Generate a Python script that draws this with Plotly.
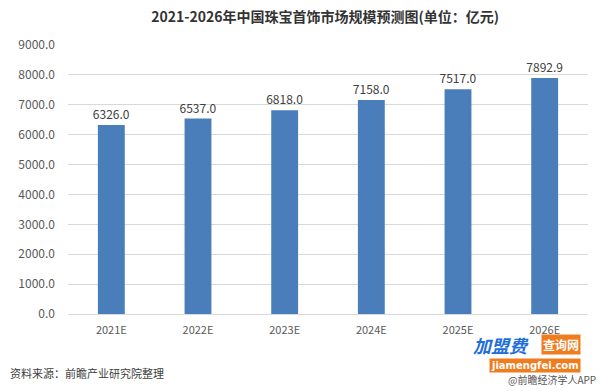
import plotly.graph_objects as go

categories = ["2021E", "2022E", "2023E", "2024E", "2025E", "2026E"]
values = [6326.0, 6537.0, 6818.0, 7158.0, 7517.0, 7892.9]
y_ticks = [0, 1000, 2000, 3000, 4000, 5000, 6000, 7000, 8000, 9000]

title = "2021-2026年中国珠宝首饰市场规模预测图(单位：亿元)"
source = "资料来源：前瞻产业研究院整理"

font_cjk = "Noto Sans CJK SC, Microsoft YaHei, sans-serif"

fig = go.Figure()
fig.add_trace(go.Bar(
    x=categories, y=values,
    marker=dict(color="#4A7EBB", line=dict(width=0)),
    text=[f"{v:.1f}" for v in values],
    textposition="outside",
    constraintext="none",
    textfont=dict(color="#404040", size=12, family=font_cjk),
    cliponaxis=False,
))

fig.update_layout(
    width=600, height=391,
    margin=dict(l=68, r=12, t=45, b=77),
    plot_bgcolor="white", paper_bgcolor="white",
    bargap=0.69,
    showlegend=False,
    title=dict(text="<b>" + title + "</b>", x=0.542, xanchor="center", y=0.955, yanchor="middle",
               font=dict(size=14, color="#333333", family=font_cjk)),
    xaxis=dict(showgrid=False, showline=True, linecolor="#D9D9D9", linewidth=1,
               ticks="", ticklabelstandoff=6,
               tickfont=dict(size=11, color="#595959", family=font_cjk)),
    yaxis=dict(range=[0, 9000], tickvals=y_ticks, ticktext=[f"{t:.1f}" for t in y_ticks],
               showgrid=True, gridcolor="#D9D9D9", gridwidth=1, zeroline=False,
               ticks="", ticklabelstandoff=12,
               tickfont=dict(size=12, color="#595959", family=font_cjk)),
    font=dict(family=font_cjk),
)

fig.add_annotation(text=source, xref="paper", yref="paper", x=-0.115, y=-0.22,
                   xanchor="left", yanchor="middle", showarrow=False,
                   font=dict(size=11, color="#404040", family=font_cjk))
fig.add_annotation(text="<i><b>加盟费</b></i>", xref="paper", yref="paper", x=0.775, y=-0.115,
                   xanchor="left", yanchor="middle", showarrow=False,
                   font=dict(size=18, color="#1E6FD9", family=font_cjk))
fig.add_annotation(text="<b>查询网</b>", xref="paper", yref="paper", x=0.91, y=-0.115,
                   xanchor="left", yanchor="middle", showarrow=False, bgcolor="#F07C1E",
                   font=dict(size=12, color="white", family=font_cjk))
fig.add_annotation(text="<b>jiamengfei.com</b>", xref="paper", yref="paper", x=0.81, y=-0.19,
                   xanchor="left", yanchor="middle", showarrow=False, bgcolor="#F07C1E",
                   font=dict(size=10, color="white", family="DejaVu Sans"))
fig.add_annotation(text="@前瞻经济学人APP", xref="paper", yref="paper", x=1.02, y=-0.245,
                   xanchor="right", yanchor="middle", showarrow=False,
                   font=dict(size=10, color="#555555", family=font_cjk))

fig.write_html("out.html", config={"displayModeBar": False},
               post_script="document.body.style.margin='0';")
